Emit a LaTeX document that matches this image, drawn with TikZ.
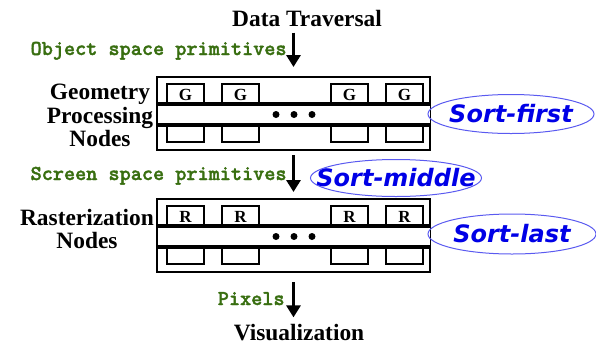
\documentclass[tikz,border=0pt]{standalone}
\usepackage{fontspec}
\setmainfont{Liberation Serif}
\newfontfamily\primfont{lmmonolt10-bold.otf}[FakeBold=1.6]
\newfontfamily\sortfont{DejaVu Sans}
\usetikzlibrary{arrows.meta}
\definecolor{primgreen}{RGB}{56,110,16}
\definecolor{sortblue}{RGB}{0,0,230}
\definecolor{ringblue}{RGB}{90,90,240}
\tikzset{
  lab/.style={font=\bfseries\fontsize{11.7}{11.75}\selectfont,inner sep=0pt,align=center},
  prim/.style={font=\primfont\fontsize{10.6}{11}\selectfont,text=primgreen,inner sep=0pt},
  sortlab/.style={font=\sortfont\bfseries\itshape\fontsize{12}{12}\selectfont,text=sortblue,inner sep=0pt},
  ring/.style={draw=ringblue,line width=0.5pt},
  flow/.style={line width=1.5pt,-{Triangle[length=6pt,width=7pt]}},
  stagebox/.style={draw,line width=0.75pt,minimum width=136.5pt,minimum height=36.5pt,inner sep=0pt,outer sep=0pt},
  unitbox/.style={draw,line width=1pt},
  bandline/.style={line width=1.7pt},
  unitlab/.style={font=\bfseries\fontsize{8.5}{8.5}\selectfont,inner sep=0pt}
}
\begin{document}
\begin{tikzpicture}[x=0.5pt,y=-0.5pt]
\useasboundingbox (0,0) rectangle (596,344);
% stages
\node[stagebox] (geo) at (293.5,113.5) {};
\node[stagebox] (ras) at (293.5,235.5) {};
\foreach \oy/\lt in {0/G,122/R}{
  \begin{scope}[shift={(0,\oy)}]
    % processing units
    \foreach \bx in {167,222,331,386}{
      \draw[unitbox] (\bx,84) rectangle ++(37,20);
      \node[unitlab] at (\bx+18.5,94.5) {\lt};
      \draw[unitbox] (\bx,125) rectangle ++(37,17);
    }
    % interconnect band
    \fill[white] (157.5,104) rectangle (429.5,125);
    \draw[bandline] (157,104) -- (430,104) (157,125) -- (430,125);
    \foreach \dx in {276,294,312}
      \fill (\dx,114.5) circle[radius=3.5];
  \end{scope}
}
% stage names
\node[lab] (geolab) at (100,115.5) {Geometry\\Processing\\Nodes};
\node[lab] (raslab) at (87,229) {Rasterization\\Nodes};
% data flow
\node[lab,anchor=base] (dt) at (307,26) {Data Traversal};
\node[lab,anchor=base] (vis) at (299,340) {Visualization};
\draw[flow,shorten <=3pt,shorten >=5pt] (dt.south -| geo.north) -- (geo.north);
\draw[flow,shorten <=2.5pt,shorten >=3.5pt] (geo.south) -- (ras.north);
\draw[flow,shorten <=5pt,shorten >=3pt] (ras.south) -- (ras.south |- vis.north);
\node[prim,anchor=base east] (objprim) at (287,55) {Object space primitives};
\node[prim,anchor=base east] (scrprim) at (287,180) {Screen space primitives};
\node[prim,anchor=base east] (pix) at (285,305) {Pixels};
% sorting points
\node[sortlab] (sfirst) at (511,114) {Sort-first};
\draw[ring] (sfirst.center) ellipse[x radius=83,y radius=19.5];
\node[sortlab] (smid) at (396,178) {Sort-middle};
\draw[ring] (smid.center) ellipse[x radius=85.5,y radius=18.5];
\node[sortlab] (slast) at (512,234) {Sort-last};
\draw[ring] (slast.center) ellipse[x radius=84,y radius=20];
\end{tikzpicture}
\end{document}
